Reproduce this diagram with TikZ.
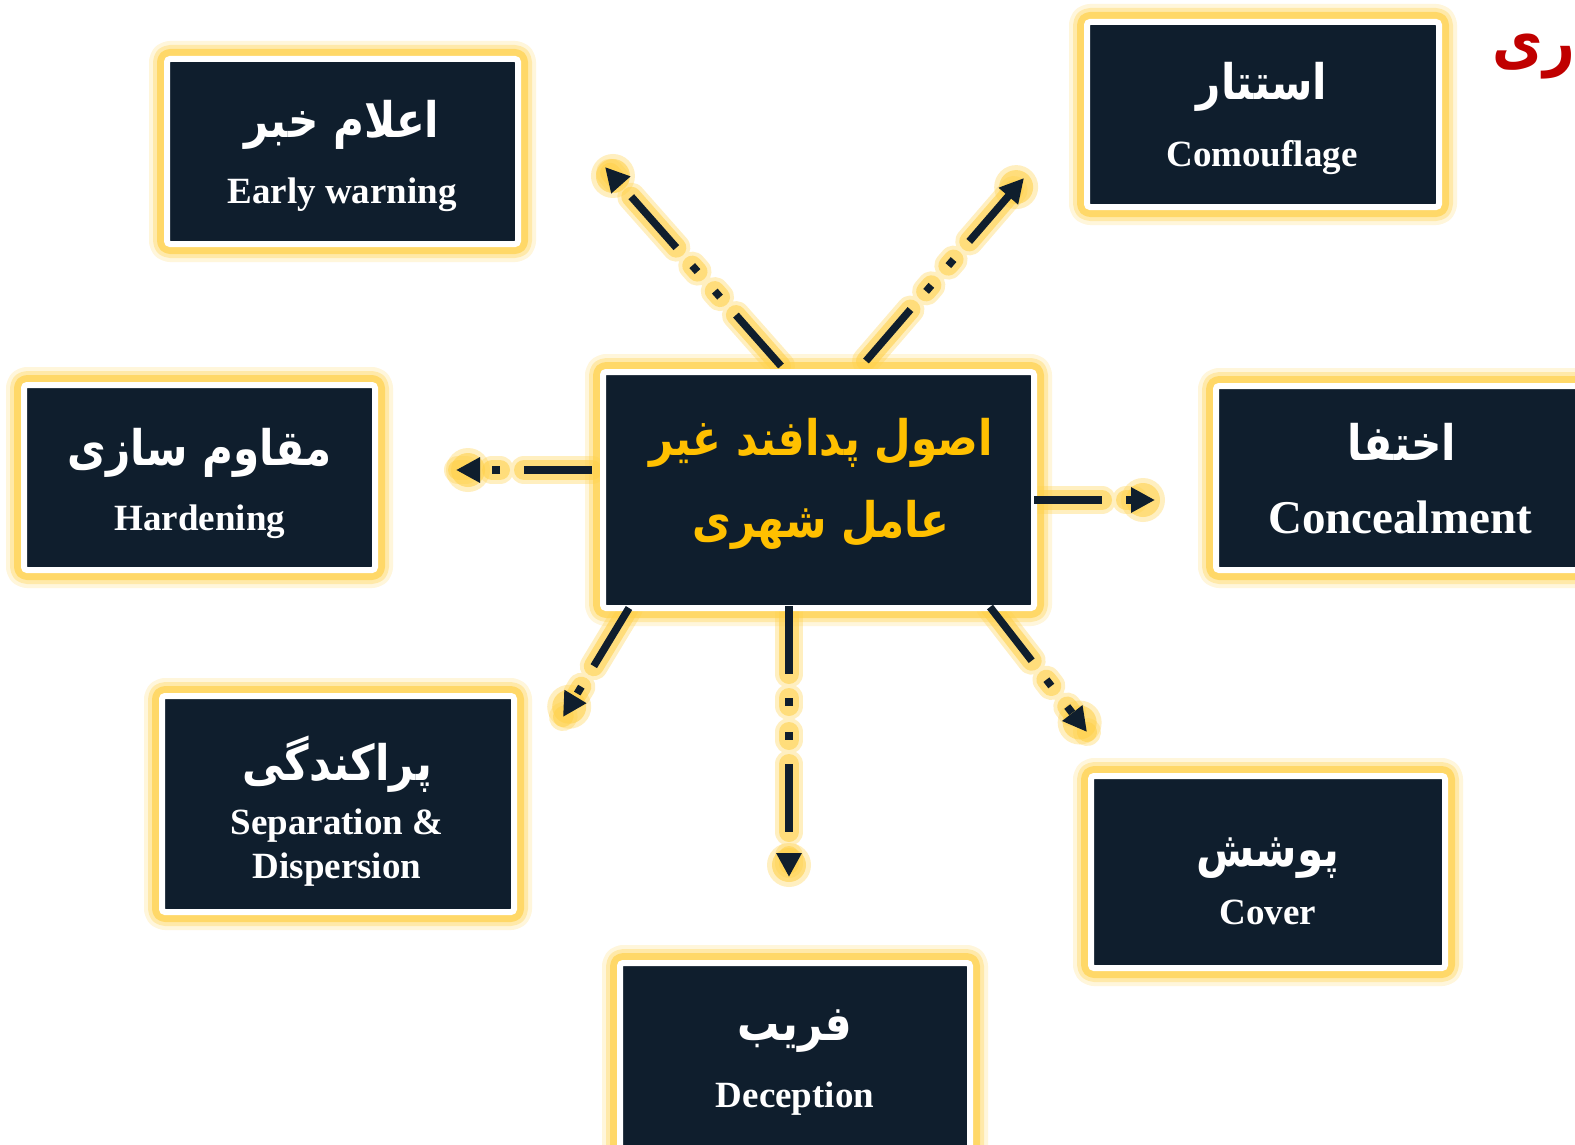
\documentclass[tikz,border=0pt]{standalone}
\usepackage{fontspec}
\setmainfont{Liberation Serif}
\newfontfamily\arfont[Script=Arabic,FakeStretch=0.86]{DejaVu Sans}
\TeXXeTstate=1
\usetikzlibrary{arrows.meta,calc}
\definecolor{navy}{HTML}{0F1E2D}
\definecolor{glow}{HTML}{FFD24D}
\definecolor{gold}{HTML}{FFC000}
\definecolor{tred}{HTML}{C00000}
\tikzset{
  box/.style={fill=navy, draw=white, line width=6pt, rounded corners=3pt, inner sep=0pt,
    preaction={draw=glow, line width=36pt, draw opacity=0.2, line join=round},
    preaction={draw=glow, line width=28pt, draw opacity=0.35, line join=round},
    preaction={draw=glow, line width=20pt, draw opacity=0.7, line join=round}},
  artext/.style={text=white, font=\arfont\bfseries\fontsize{49}{54}\selectfont, anchor=base, inner sep=0pt},
  entext/.style={text=white, font=\bfseries\fontsize{37}{44}\selectfont, anchor=base, inner sep=0pt},
  pat/.style={dash pattern=on 68pt off 24pt on 8pt off 26pt on 8pt off 24pt},
  arr/.style={pat, draw=navy, line width=7.5pt, -{Triangle[length=24pt,width=24pt]}},
  glowA/.style={pat, draw=glow, line width=28pt, line cap=round, draw opacity=0.35},
  glowB/.style={pat, draw=glow, line width=20pt, line cap=round, draw opacity=0.6},
}
\newcommand\arrowglow[2]{%
  \draw[glowA] (#1) -- (#2);
  \draw[glowB] (#1) -- (#2);
  \fill[glow, fill opacity=0.35] ($(#2)!12pt!(#1)$) circle (22pt);
  \fill[glow, fill opacity=0.6] ($(#2)!12pt!(#1)$) circle (17pt);
}
\begin{document}
\begin{tikzpicture}[x=1pt,y=-1pt]
\clip (0,0) rectangle (1575,1145);
\fill[white] (0,0) rectangle (1575,1145);

% arrow end points
\coordinate (s1) at (781,366);  \coordinate (e1) at (605,167);
\coordinate (s2) at (866,361);  \coordinate (e2) at (1024,178);
\coordinate (s3) at (592,470);  \coordinate (e3) at (456,470);
\coordinate (s4) at (1034,500); \coordinate (e4) at (1155,500);
\coordinate (s5) at (629,608);  \coordinate (e5) at (563,717);
\coordinate (s6) at (789,606);  \coordinate (e6) at (789,877);
\coordinate (s7) at (990,607);  \coordinate (e7) at (1087,732);

% glow of the connectors (under the boxes)
\arrowglow{s1}{e1}
\arrowglow{s2}{e2}
\arrowglow{s3}{e3}
\arrowglow{s4}{e4}
\arrowglow{s5}{e5}
\arrowglow{s6}{e6}
\arrowglow{s7}{e7}

% boxes
\node[box, minimum width=351pt, minimum height=185pt] (ew) at (342.5,151.5) {};
\node[box, minimum width=352pt, minimum height=185pt] (cf) at (1263,114.5) {};
\node[box, minimum width=351pt, minimum height=185pt] (hd) at (199.5,477.5) {};
\node[box, minimum width=370pt, minimum height=184pt] (cn) at (1401,478) {};
\node[box, minimum width=352pt, minimum height=216pt] (sp) at (338,804) {};
\node[box, minimum width=354pt, minimum height=192pt] (cv) at (1268,872) {};
\node[box, minimum width=350pt, minimum height=244pt] (dc) at (795,1085) {};
\node[box, minimum width=431pt, minimum height=236pt] (ct) at (818.5,490) {};

% texts
\node[artext] (ewa) at (342,138) {\beginR اعلام خبر\endR};
\node[entext] (ewe) at (342,204) {Early warning};
\node[artext] (cfa) at (1262,100) {\beginR استتار\endR};
\node[entext] (cfe) at (1262,167) {Comouflage};
\node[artext] (hda) at (200,465) {\beginR مقاوم سازی\endR};
\node[entext] (hde) at (200,530) {Hardening};
\node[artext] (cna) at (1402,460) {\beginR اختفا\endR};
\node[entext, font=\bfseries\fontsize{47}{54}\selectfont] (cne) at (1400,533) {Concealment};
\node[artext] (spa) at (337,780) {\beginR پراکندگی\endR};
\node[entext] (spe1) at (337,834) {Separation \&};
\node[entext] (spe2) at (337,878) {Dispersion};
\node[artext] (cva) at (1268,866) {\beginR پوشش\endR};
\node[entext] (cve) at (1268,924) {Cover};
\node[artext] (dca) at (795,1040) {\beginR فریب\endR};
\node[entext] (dce) at (795,1107) {Deception};
\node[artext, text=gold] (cta1) at (821,455) {\beginR اصول پدافند غیر\endR};
\node[artext, text=gold] (cta2) at (821,537) {\beginR عامل شهری\endR};

% red title fragment at the page edge
\node[anchor=base east, inner sep=0pt, text=tred, font=\arfont\bfseries\fontsize{64}{70}\selectfont] (title) at (1575,64) {\beginR ری\endR};

% connectors
\draw[arr] (s1) -- (e1);
\draw[arr] (s2) -- (e2);
\draw[arr] (s3) -- (e3);
\draw[arr] (s4) -- (e4);
\draw[arr] (s5) -- (e5);
\draw[arr] (s6) -- (e6);
\draw[arr] (s7) -- (e7);
\end{tikzpicture}
\end{document}
